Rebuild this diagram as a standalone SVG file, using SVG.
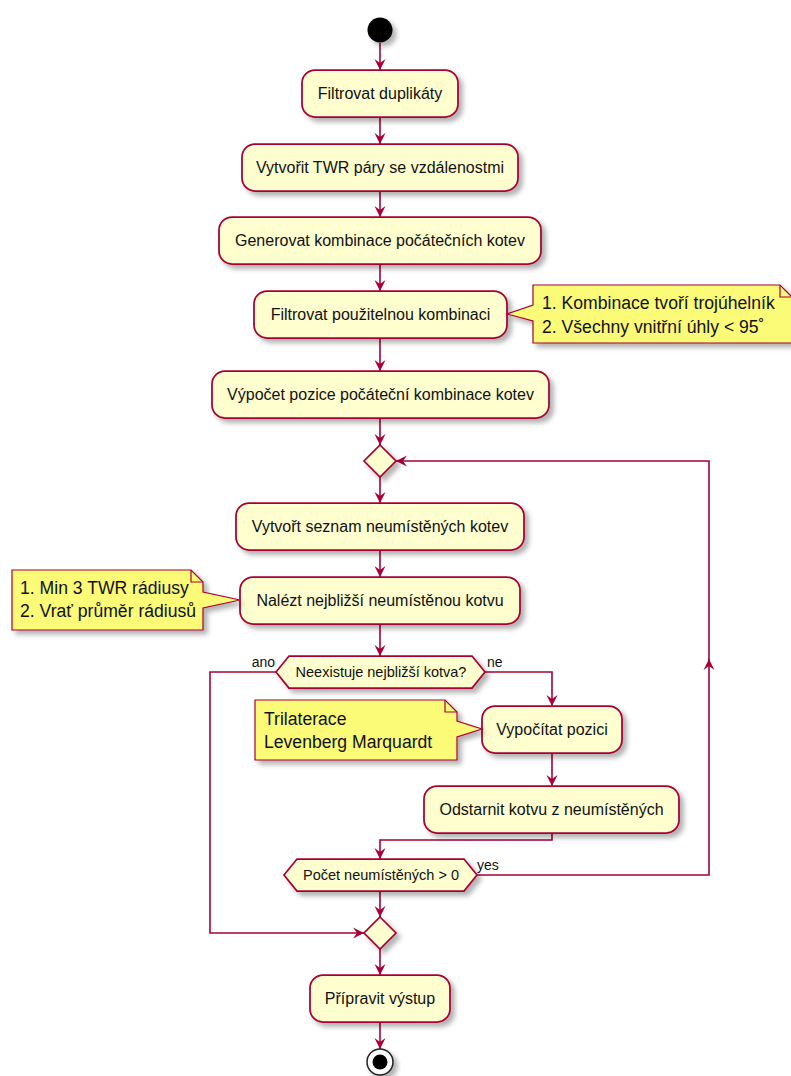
<svg xmlns="http://www.w3.org/2000/svg" width="791" height="1076" viewBox="0 0 791 1076">
  <defs>
    <filter id="shadow" x="-20%" y="-30%" width="150%" height="180%">
      <feDropShadow dx="4" dy="4" stdDeviation="2.5" flood-color="#000" flood-opacity="0.3"/>
    </filter>
    <marker id="ah" viewBox="-12 -6 13 12" refX="0" refY="0" markerWidth="13" markerHeight="12" markerUnits="userSpaceOnUse" orient="auto">
      <path d="M0,0 L-11,-5.5 L-7,0 L-11,5.5 Z" fill="#A80036"/>
    </marker>
    <style>
      .act { fill: #FEFECE; stroke: #A80036; stroke-width: 1.75; filter: url(#shadow); }
      .note { fill: #FBFB77; stroke: #A80036; stroke-width: 1.2; filter: url(#shadow); }
      .fold { fill: none; stroke: #A80036; stroke-width: 1.2; }
      .link { fill: none; stroke: #A80036; stroke-width: 1.6; marker-end: url(#ah); }
      .t { font-family: "Liberation Sans", Arial, sans-serif; font-size: 16px; fill: #111; text-anchor: middle; }
      .h { font-family: "Liberation Sans", Arial, sans-serif; font-size: 14.5px; fill: #111; text-anchor: middle; }
      .lbl { font-family: "Liberation Sans", Arial, sans-serif; font-size: 14px; fill: #111; }
      .n { font-family: "Liberation Sans", Arial, sans-serif; font-size: 17.6px; fill: #111; }
    </style>
  </defs>

  <rect width="791" height="1076" fill="#FFFFFF"/>

  <!-- connectors -->
  <g id="connectors">
    <path class="link" d="M380,43 L380,70"/>
    <path class="link" d="M380,117 L380,144"/>
    <path class="link" d="M380,191 L380,217"/>
    <path class="link" d="M380,264 L380,291"/>
    <path class="link" d="M380,338 L380,371"/>
    <path class="link" d="M380,418 L380,445"/>
    <path class="link" d="M380,477 L380,503"/>
    <path class="link" d="M380,550 L380,577"/>
    <path class="link" d="M380,624 L380,656"/>
    <!-- "ne" branch -->
    <path class="link" d="M485,672 L552,672 L552,706"/>
    <path class="link" d="M552,753 L552,786"/>
    <path class="link" d="M552,833 L552,840 L380,840 L380,859"/>
    <!-- loop back when anchors remain -->
    <path class="link" d="M477,875 L709,875 L709,659"/>
    <path class="link" d="M709,662 L709,461 L396,461"/>
    <!-- "ano" branch -->
    <path class="link" d="M276,672 L210,672 L210,933 L364,933"/>
    <path class="link" d="M380,891 L380,917"/>
    <path class="link" d="M380,949 L380,975"/>
    <path class="link" d="M380,1022 L380,1049"/>
  </g>

  <g id="start">
    <circle cx="380" cy="30" r="12.5" fill="#000" filter="url(#shadow)"/>
  </g>

  <g id="filtrovat-duplikaty">
    <rect class="act" x="302" y="70" width="156" height="47" rx="13"/>
    <text class="t" x="380" y="99">Filtrovat duplikáty</text>
  </g>

  <g id="vytvorit-twr-pary">
    <rect class="act" x="242" y="144" width="276" height="47" rx="13"/>
    <text class="t" x="380" y="173">Vytvořit TWR páry se vzdálenostmi</text>
  </g>

  <g id="generovat-kombinace">
    <rect class="act" x="219" y="217" width="322" height="47" rx="13"/>
    <text class="t" x="380" y="246">Generovat kombinace počátečních kotev</text>
  </g>

  <g id="filtrovat-kombinaci">
    <rect class="act" x="254" y="291" width="253" height="47" rx="13"/>
    <text class="t" x="380.5" y="320">Filtrovat použitelnou kombinaci</text>
  </g>

  <g id="note-kombinace">
    <path class="note" d="M533,285 L780,285 L792,297 L792,343 L533,343 L533,321 L507,314 L533,305 Z"/>
    <path class="fold" d="M780,285 L780,297 L792,297"/>
    <text class="n" x="542" y="309">1. Kombinace tvoří trojúhelník</text>
    <text class="n" x="542" y="333">2. Všechny vnitřní úhly &lt; 95˚</text>
  </g>

  <g id="vypocet-pocatecni">
    <rect class="act" x="212" y="371" width="337" height="47" rx="13"/>
    <text class="t" x="380.5" y="400">Výpočet pozice počáteční kombinace kotev</text>
  </g>

  <g id="merge-loop">
    <polygon class="act" points="380,445 396,461 380,477 364,461"/>
  </g>

  <g id="vytvorit-seznam">
    <rect class="act" x="236" y="503" width="288" height="47" rx="13"/>
    <text class="t" x="380" y="532">Vytvořt seznam neumístěných kotev</text>
  </g>

  <g id="nalezt-nejblizsi">
    <rect class="act" x="240" y="577" width="280" height="47" rx="13"/>
    <text class="t" x="380" y="606">Nalézt nejbližší neumístěnou kotvu</text>
  </g>

  <g id="note-radiusy">
    <path class="note" d="M12,570 L191,570 L203,582 L203,592 L240,600 L203,608 L203,630 L12,630 Z"/>
    <path class="fold" d="M191,570 L191,582 L203,582"/>
    <text class="n" x="20" y="594">1. Min 3 TWR rádiusy</text>
    <text class="n" x="20" y="617">2. Vrať průměr rádiusů</text>
  </g>

  <g id="neexistuje-kotva">
    <polygon class="act" points="276,672 289,656 472,656 485,672 472,688 289,688"/>
    <text class="h" x="381" y="677">Neexistuje nejbližší kotva?</text>
    <text class="lbl" x="275" y="667" text-anchor="end">ano</text>
    <text class="lbl" x="487" y="667">ne</text>
  </g>

  <g id="vypocitat-pozici">
    <rect class="act" x="482" y="706" width="140" height="47" rx="13"/>
    <text class="t" x="552" y="735">Vypočítat pozici</text>
  </g>

  <g id="note-trilaterace">
    <path class="note" d="M255,700 L445,700 L457,712 L457,721 L482,729 L457,737 L457,760 L255,760 Z"/>
    <path class="fold" d="M445,700 L445,712 L457,712"/>
    <text class="n" x="264" y="725">Trilaterace</text>
    <text class="n" x="264" y="748">Levenberg Marquardt</text>
  </g>

  <g id="odstranit-kotvu">
    <rect class="act" x="424" y="786" width="255" height="47" rx="13"/>
    <text class="t" x="551.5" y="815">Odstarnit kotvu z neumístěných</text>
  </g>

  <g id="pocet-neumistenych">
    <polygon class="act" points="284,875 297,859 464,859 477,875 464,891 297,891"/>
    <text class="h" x="381" y="880">Počet neumístěných &gt; 0</text>
    <text class="lbl" x="477" y="870">yes</text>
  </g>

  <g id="merge-end">
    <polygon class="act" points="380,917 396,933 380,949 364,933"/>
  </g>

  <g id="pripravit-vystup">
    <rect class="act" x="310" y="975" width="140" height="47" rx="13"/>
    <text class="t" x="380" y="1004">Přípravit výstup</text>
  </g>

  <g id="end">
    <circle cx="380" cy="1062" r="13" fill="#FFFFFF" stroke="#222" stroke-width="1.5" filter="url(#shadow)"/>
    <circle cx="380" cy="1062" r="7.5" fill="#000"/>
  </g>
</svg>
